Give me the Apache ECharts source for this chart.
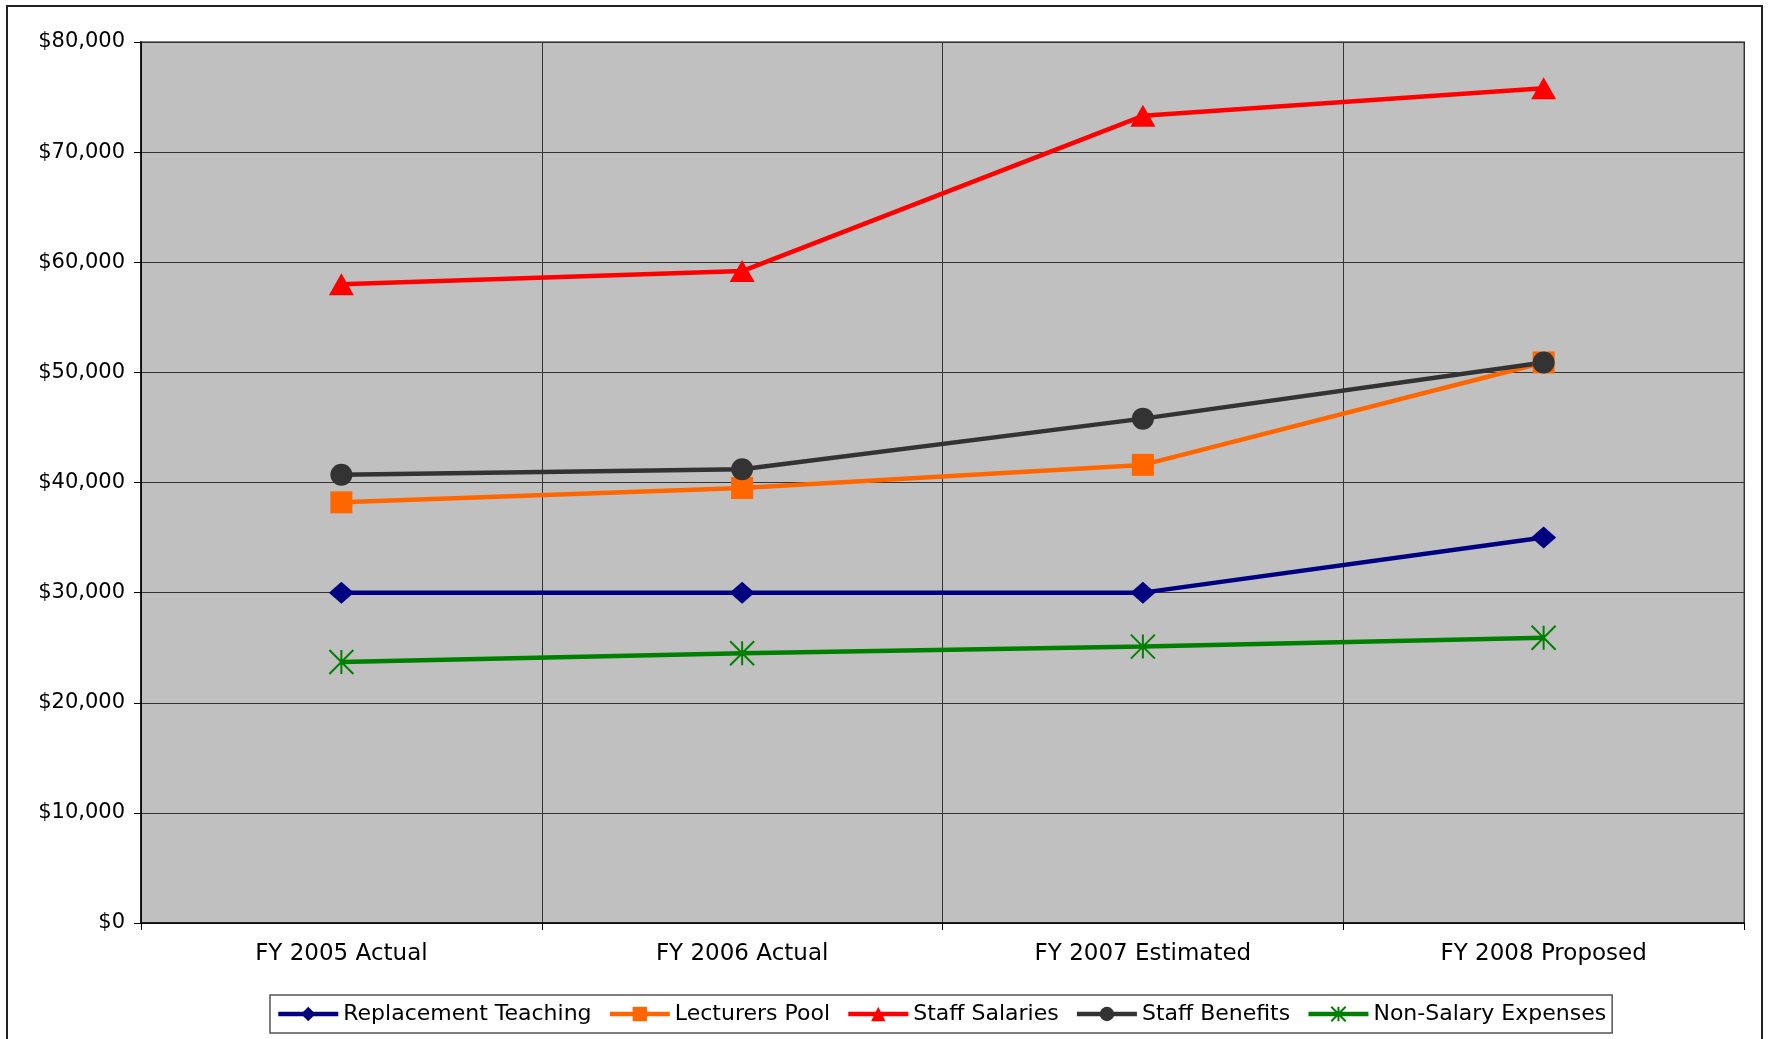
<!DOCTYPE html>
<html>
<head>
<meta charset="utf-8">
<script src="https://cdn.jsdelivr.net/npm/echarts@6/dist/echarts.min.js"></script>
<style>
html, body { margin: 0; padding: 0; background: #fff; }
#main { width: 1768px; height: 1039px; }
</style>
</head>
<body>
<div id="main"></div>
<script>
var categories = ['FY 2005 Actual', 'FY 2006 Actual', 'FY 2007 Estimated', 'FY 2008 Proposed'];
var replacementTeaching = [30000, 30000, 30000, 35000];
var lecturersPool = [38200, 39500, 41600, 50900];
var staffSalaries = [58000, 59200, 73300, 75800];
var staffBenefits = [40700, 41200, 45800, 50900];
var nonSalary = [23700, 24500, 25100, 25900];
var yTicks = { min: 0, max: 80000, interval: 10000 };

var asterisk = 'path://M0,0L20,20M20,0L0,20M10,0L10,20';
var font = 'DejaVu Sans, Liberation Sans, sans-serif';

function makeSeries(name, data, color, symbol, size, extra) {
	var s = {
		name: name,
		type: 'line',
		data: data,
		symbol: symbol,
		symbolSize: size,
		showAllSymbol: true,
		lineStyle: { color: color, width: 4.5 },
		itemStyle: { color: color },
		emphasis: { disabled: true },
		z: 3
	};
	if (extra) {
		for (var k in extra) s[k] = extra[k];
	}
	return s;
}

var myChart = echarts.init(document.getElementById('main'));
var option = {
	animation: false,
	backgroundColor: '#fff',
	textStyle: { fontFamily: font },
	graphic: [{
		type: 'rect',
		shape: { x: 7, y: 6, width: 1755, height: 1050 },
		style: { fill: 'none', stroke: '#222', lineWidth: 2 },
		z: 0
	}],
	grid: {
		left: 141, top: 42, right: 24, bottom: 116,
		show: true,
		backgroundColor: '#c0c0c0',
		borderColor: '#808080',
		borderWidth: 2
	},
	legend: {
		top: 995,
		left: 270,
		itemWidth: 60,
		itemHeight: 18,
		itemGap: 16,
		padding: [8, 6],
		borderColor: '#555',
		borderWidth: 1.5,
		borderRadius: 0,
		lineStyle: { width: 4.5 },
		textStyle: { fontSize: 22, color: '#000', fontFamily: font },
		data: ['Replacement Teaching', 'Lecturers Pool', 'Staff Salaries', 'Staff Benefits', 'Non-Salary Expenses']
	},
	xAxis: {
		type: 'category',
		data: categories,
		boundaryGap: true,
		axisLine: { lineStyle: { color: '#000', width: 1.5 } },
		axisTick: { show: true, length: 7, lineStyle: { color: '#000' } },
		axisLabel: { fontSize: 23, color: '#000', margin: 20, fontFamily: font },
		splitLine: { show: true, lineStyle: { color: '#333', width: 1 } }
	},
	yAxis: {
		type: 'value',
		min: yTicks.min,
		max: yTicks.max,
		interval: yTicks.interval,
		axisLine: { show: true, lineStyle: { color: '#000', width: 1.5 } },
		axisTick: { show: true, length: 7, lineStyle: { color: '#000' } },
		axisLabel: {
			fontSize: 21, color: '#000', margin: 16, fontFamily: font,
			formatter: function (v) { return '$' + v.toLocaleString('en-US'); }
		},
		splitLine: { show: true, lineStyle: { color: '#333', width: 1 } }
	},
	series: [
		makeSeries('Replacement Teaching', replacementTeaching, '#000080', 'diamond', [25, 22]),
		makeSeries('Lecturers Pool', lecturersPool, '#FF6600', 'rect', 22),
		makeSeries('Staff Salaries', staffSalaries, '#FF0000', 'triangle', [25, 22]),
		makeSeries('Staff Benefits', staffBenefits, '#333333', 'circle', 22),
		makeSeries('Non-Salary Expenses', nonSalary, '#008000', asterisk, 24, {
			itemStyle: { color: 'none', borderColor: '#008000', borderWidth: 2 }
		})
	]
};
myChart.setOption(option);
</script>
</body>
</html>
